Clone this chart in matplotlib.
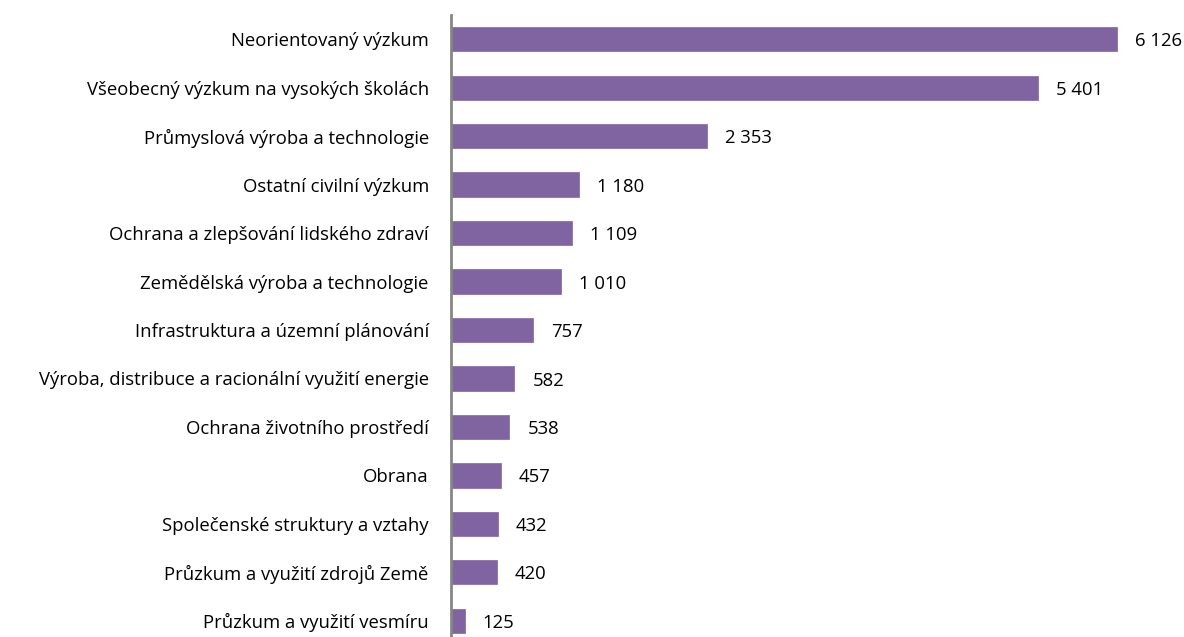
import matplotlib
matplotlib.use("Agg")
import matplotlib.pyplot as plt

# Categories (top to bottom) and values
categories = [
    "Neorientovaný výzkum",
    "Všeobecný výzkum na vysokých školách",
    "Průmyslová výroba a technologie",
    "Ostatní civilní výzkum",
    "Ochrana a zlepšování lidského zdraví",
    "Zemědělská výroba a technologie",
    "Infrastruktura a územní plánování",
    "Výroba, distribuce a racionální využití energie",
    "Ochrana životního prostředí",
    "Obrana",
    "Společenské struktury a vztahy",
    "Průzkum a využití zdrojů Země",
    "Průzkum a využití vesmíru",
]
values = [6126, 5401, 2353, 1180, 1109, 1010, 757, 582, 538, 457, 432, 420, 125]
value_labels = ["6 126", "5 401", "2 353", "1 180", "1 109", "1 010", "757",
                "582", "538", "457", "432", "420", "125"]

plt.rcParams['font.family'] = ['Open Sans', 'DejaVu Sans']

W, H = 1184, 637
fig = plt.figure(figsize=(W / 100, H / 100), dpi=100)
# axes: zero line at x=451px, spans y 15..645px
ax = fig.add_axes([451 / W, (H - 645) / H, (W - 451) / W, 630 / H])

pos = list(range(len(categories)))
ax.barh(pos, values, height=0.5, color="#8064A2", edgecolor="#8064A2", linewidth=0.5)
ax.set_ylim(len(categories) - 0.5, -0.5)
ax.set_xlim(0, (W - 451) * 6126 / 666)

for p, v, lab in zip(pos, values, value_labels):
    ax.annotate(lab, (v, p), xytext=(13, -1.5), textcoords="offset points",
                ha="left", va="center", fontsize=13.3, color="#000000",
                annotation_clip=False)

ax.set_yticks(pos)
ax.set_yticklabels(categories, fontsize=13.3)
ax.tick_params(axis="y", length=0, pad=16)
ax.set_xticks([])
for s in ["top", "right", "bottom"]:
    ax.spines[s].set_visible(False)
ax.spines["left"].set_color("#868686")
ax.spines["left"].set_linewidth(2)
ax.patch.set_alpha(0)

fig.savefig("out.png", dpi=100)
